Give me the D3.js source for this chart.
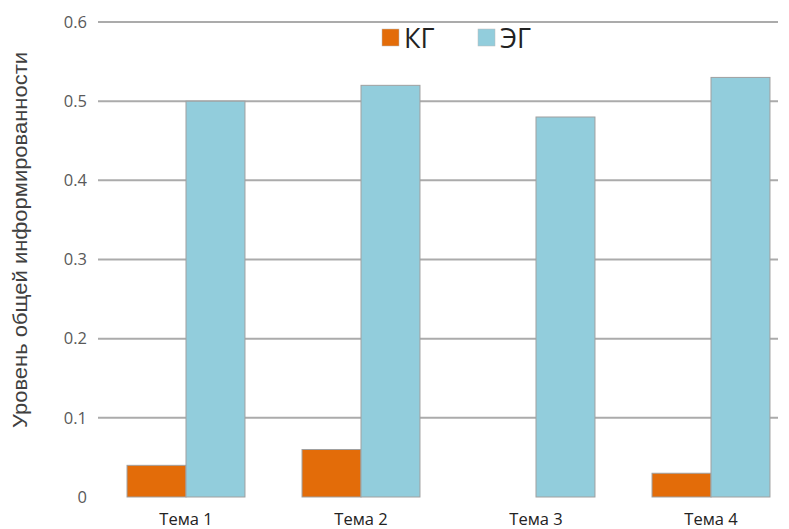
<!DOCTYPE html>
<html><head><meta charset="utf-8">
<script src="https://d3js.org/d3.v7.min.js"></script>
<style>body{margin:0;background:#fff}svg{display:block}text{font-family:"Open Sans",sans-serif}</style>
</head><body>
<script>
const categories = ["Тема 1","Тема 2","Тема 3","Тема 4"];
const seriesNames = ["КГ","ЭГ"];
const kg = [0.04, 0.06, 0, 0.03];
const eg = [0.50, 0.52, 0.48, 0.53];
const yTicks = [0, 0.1, 0.2, 0.3, 0.4, 0.5, 0.6];
const yTitle = "Уровень общей информированности";
const colors = ["#E36C09", "#92CDDC"];

const W = 789, H = 529;
const svg = d3.select("body").append("svg").attr("width", W).attr("height", H);
const y = d3.scaleLinear().domain([0, 0.6]).range([497, 22]);
const x = d3.scaleBand().domain(categories).range([98.5, 798.5]).paddingInner(0.326).paddingOuter(0.163);
const xs = d3.scaleBand().domain(seriesNames).range([0, x.bandwidth()]);

// gridlines
svg.append("g").selectAll("line").data(yTicks.filter(d => d > 0)).join("line")
  .attr("x1", 98).attr("x2", 778).attr("y1", d => y(d)).attr("y2", d => y(d))
  .attr("stroke", "#ABABAB").attr("stroke-width", 2);

// y tick labels
svg.append("g").selectAll("text").data(yTicks).join("text")
  .attr("x", 87).attr("y", d => y(d)).attr("dy", "0.35em").attr("text-anchor", "end")
  .attr("font-size", 16.5).attr("fill", "#595959")
  .text(d => d === 0 ? "0" : d3.format(".1f")(d));

// y title
svg.append("text").attr("transform", "translate(20,240) rotate(-90)")
  .attr("text-anchor", "middle").attr("dy", "0.35em")
  .style("font-family", "'Liberation Sans', Arial, sans-serif")
  .attr("font-size", 20).attr("fill", "#404040")
  .attr("textLength", 376).attr("lengthAdjust", "spacingAndGlyphs")
  .text(yTitle);

// bars
const data = categories.map((c, i) => ({c, vals: [kg[i], eg[i]]}));
const g = svg.append("g").selectAll("g").data(data).join("g")
  .attr("transform", d => `translate(${x(d.c)},0)`);
g.selectAll("rect").data(d => d.vals.map((v, j) => ({s: seriesNames[j], v, j})).filter(d => d.v > 0)).join("rect")
  .attr("x", d => xs(d.s)).attr("width", xs.bandwidth())
  .attr("y", d => y(d.v)).attr("height", d => y(0) - y(d.v))
  .attr("fill", d => colors[d.j]).attr("stroke", "#A0A0A0").attr("stroke-width", 1);

// x labels
svg.append("g").selectAll("text").data(categories).join("text")
  .attr("x", d => x(d) + x.bandwidth() / 2).attr("y", 525)
  .attr("text-anchor", "middle").attr("font-size", 16.5).attr("fill", "#222").text(d => d);

// legend
const lg = svg.append("g");
const lx = [382, 478];
seriesNames.forEach((s, i) => {
  lg.append("rect").attr("x", lx[i]).attr("y", 29).attr("width", 17).attr("height", 17)
    .attr("fill", colors[i]).attr("stroke", "#bbb").attr("stroke-width", 0.5);
  lg.append("text").attr("x", lx[i] + 22).attr("y", 38).attr("dy", "0.36em")
    .attr("font-size", 27).attr("fill", "#222").text(s);
});
</script>
</body></html>
